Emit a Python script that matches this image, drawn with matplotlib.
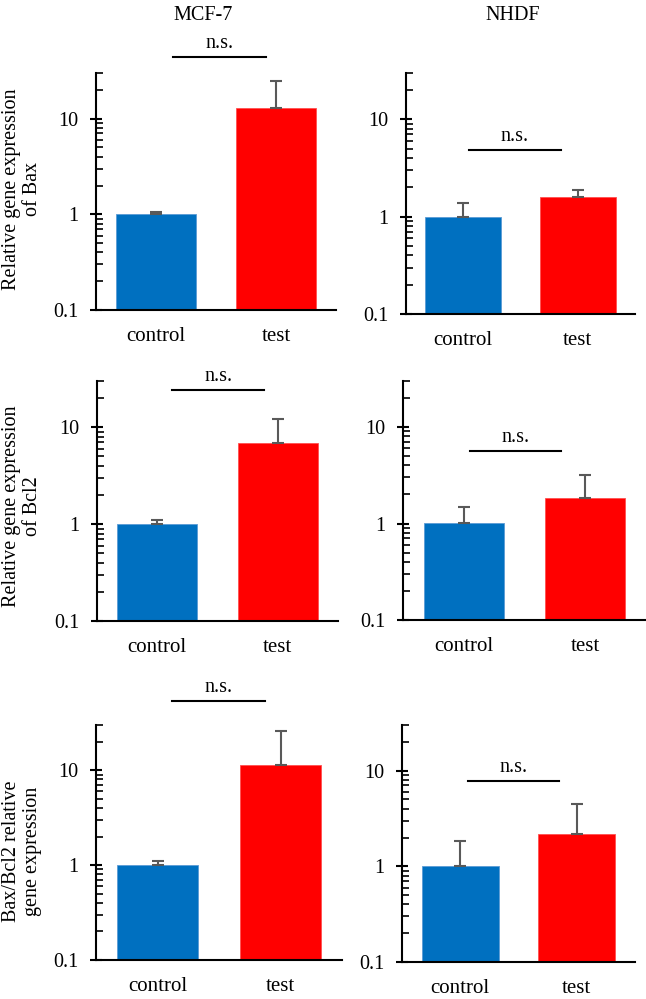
import matplotlib
matplotlib.use("Agg")
import matplotlib.pyplot as plt
from matplotlib.ticker import LogLocator, NullFormatter, FixedLocator, FixedFormatter

plt.rcParams['font.family'] = ['Liberation Serif', 'DejaVu Serif']
plt.rcParams['font.size'] = 14.5

# Daten
groups = ['control', 'test']
cells = ['MCF-7', 'NHDF']
ylabels = ['Relative gene expression\nof Bax',
           'Relative gene expression\nof Bcl2',
           'Bax/Bcl2 relative\ngene expression']

bax_mcf7 = [1.0, 13.0]
bax_mcf7_err = [0.07, 12.0]
bax_nhdf = [1.0, 1.58]
bax_nhdf_err = [0.38, 0.29]
bcl2_mcf7 = [1.0, 6.8]
bcl2_mcf7_err = [0.10, 5.4]
bcl2_nhdf = [1.02, 1.82]
bcl2_nhdf_err = [0.46, 1.40]
ratio_mcf7 = [1.0, 11.3]
ratio_mcf7_err = [0.10, 14.7]
ratio_nhdf = [1.0, 2.18]
ratio_nhdf_err = [0.86, 2.31]

# altura e extensao da barra "n.s."
ns_y = [44, 4.9, 24, 5.6, 54, 7.8]
ns_x0 = [0.14, 0.05, 0.12, 0.05, 0.12, 0.07]
ns_x1 = [0.92, 0.85, 0.89, 0.80, 0.87, 0.85]

values = [bax_mcf7, bax_nhdf, bcl2_mcf7, bcl2_nhdf, ratio_mcf7, ratio_nhdf]
errors = [bax_mcf7_err, bax_nhdf_err, bcl2_mcf7_err, bcl2_nhdf_err,
          ratio_mcf7_err, ratio_nhdf_err]

W, H = 646, 999
# caixas dos eixos em pixels: esquerda, direita, topo, base
boxes = [(96, 336, 73, 310), (406, 635, 73, 314),
         (97, 338, 381, 621), (403, 646, 381, 620),
         (96, 342, 725, 960), (402, 635, 725, 962)]
label_y = [189, 506, 851]

fig = plt.figure(figsize=(W / 100, H / 100), dpi=100)

for i, (l, r, t, b) in enumerate(boxes):
    ax = fig.add_axes([l / W, 1 - b / H, (r - l) / W, (b - t) / H])
    ax.bar([0, 1], values[i], width=0.66,
           color=['#0070C0', '#FF0000'],
           edgecolor=['#5B9BD5', '#FF5050'], linewidth=0.6)
    ax.errorbar([0, 1], values[i], yerr=[[0, 0], errors[i]], fmt='none',
                ecolor='#595959', elinewidth=1.5, capsize=4, capthick=1.5)
    ax.set_yscale('log')
    ax.set_ylim(0.1, 30)
    ax.set_xlim(-0.5, 1.5)
    ax.set_xticks([0, 1])
    ax.set_xticklabels(groups, fontsize=15)
    ax.tick_params(axis='x', length=0, pad=12)
    ax.yaxis.set_major_locator(FixedLocator([0.1, 1, 10]))
    ax.yaxis.set_major_formatter(FixedFormatter(['0.1', '1', '10']))
    ax.yaxis.set_minor_locator(LogLocator(base=10, subs=range(2, 10)))
    ax.yaxis.set_minor_formatter(NullFormatter())
    ax.tick_params(axis='y', which='major', direction='inout', length=9,
                   width=1.5, pad=8)
    ax.tick_params(axis='y', which='minor', direction='in', length=5,
                   width=1.2)
    for s in ['top', 'right']:
        ax.spines[s].set_visible(False)
    for s in ['left', 'bottom']:
        ax.spines[s].set_linewidth(1.5)

    # barra de significancia
    ax.plot([ns_x0[i], ns_x1[i]], [ns_y[i], ns_y[i]], color='black', lw=1.5,
            clip_on=False)
    ax.annotate('n.s.', xy=((ns_x0[i] + ns_x1[i]) / 2, ns_y[i]),
                xytext=(0, 6.5), textcoords='offset points',
                ha='center', va='baseline', annotation_clip=False)

    if i % 2 == 0:
        fig.text(22 / W, 1 - label_y[i // 2] / H, ylabels[i // 2],
                 rotation=90, ha='center', va='center', linespacing=1.2)

fig.text(203 / W, 1 - 19.5 / H, cells[0], ha='center', va='baseline')
fig.text(513 / W, 1 - 19.5 / H, cells[1], ha='center', va='baseline')

fig.savefig('out.png', dpi=100)
